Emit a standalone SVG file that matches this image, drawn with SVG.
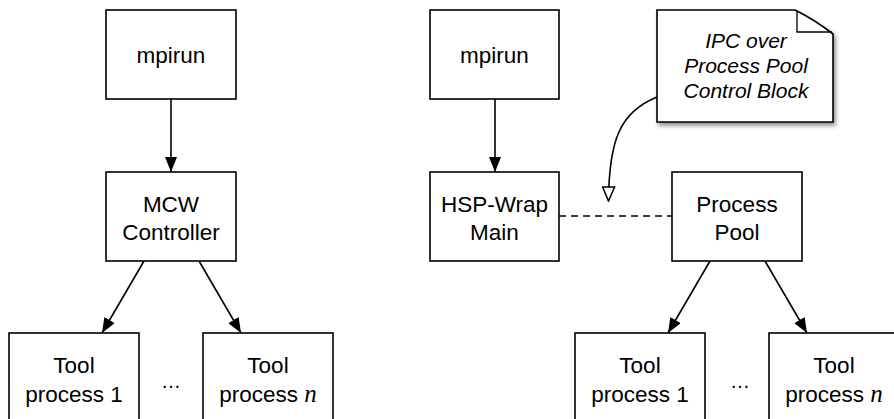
<svg xmlns="http://www.w3.org/2000/svg" width="894" height="419" viewBox="0 0 894 419">
  <style>
    .box { fill: #ffffff; stroke: #000000; stroke-width: 1.6; }
    .lbl { font-family: "Liberation Sans", Arial, Helvetica, sans-serif; font-size: 22.5px; fill: #000000; text-anchor: middle; }
    .note { font-family: "Liberation Sans", Arial, Helvetica, sans-serif; font-size: 21px; font-style: italic; fill: #000000; text-anchor: middle; }
    .var { font-family: "Liberation Serif", "Times New Roman", serif; font-style: italic; font-size: 25px; }
    .dots { font-family: "Liberation Sans", Arial, sans-serif; font-size: 20px; fill: #000000; text-anchor: middle; }
    .edge { fill: none; stroke: #000000; stroke-width: 1.6; }
    .dash { stroke-dasharray: 7 5; }
  </style>
  <defs>
    <marker id="arrow" viewBox="0 0 15 12" refX="15" refY="6" markerWidth="15" markerHeight="12" markerUnits="userSpaceOnUse" orient="auto">
      <path d="M0,0 L15,6 L0,12 Z" fill="#000000"/>
    </marker>
    <marker id="hollow" viewBox="0 0 16 14" refX="15" refY="7" markerWidth="16" markerHeight="14" markerUnits="userSpaceOnUse" orient="auto">
      <path d="M1,1 L15,7 L1,13 Z" fill="#ffffff" stroke="#000000" stroke-width="1.5"/>
    </marker>
    <filter id="shadow" x="-10%" y="-10%" width="130%" height="130%">
      <feDropShadow dx="2" dy="3" stdDeviation="2" flood-color="#000000" flood-opacity="0.45"/>
    </filter>
  </defs>

  <!-- connectors -->
  <g id="connectors">
    <line class="edge" x1="171" y1="99" x2="171" y2="172" marker-end="url(#arrow)"/>
    <line class="edge" x1="144" y1="261" x2="102" y2="333" marker-end="url(#arrow)"/>
    <line class="edge" x1="199" y1="261" x2="241" y2="333" marker-end="url(#arrow)"/>
    <line class="edge" x1="495" y1="99" x2="495" y2="172" marker-end="url(#arrow)"/>
    <line class="edge dash" x1="559" y1="216" x2="672" y2="216"/>
    <line class="edge" x1="710" y1="261" x2="668" y2="333" marker-end="url(#arrow)"/>
    <line class="edge" x1="765" y1="261" x2="807" y2="333" marker-end="url(#arrow)"/>
    <path class="edge" d="M657,97 C620,112 609,140 608.5,201" marker-end="url(#hollow)"/>
  </g>

  <!-- left: MCW -->
  <g id="mpirun-left">
    <rect class="box" x="106" y="10" width="130" height="89"/>
    <text class="lbl" x="171" y="63">mpirun</text>
  </g>
  <g id="mcw-controller">
    <rect class="box" x="106" y="172" width="130" height="89"/>
    <text class="lbl" x="171" y="212">MCW</text>
    <text class="lbl" x="171" y="240">Controller</text>
  </g>
  <g id="tool-left-1">
    <rect class="box" x="9" y="333" width="130" height="95"/>
    <text class="lbl" x="74" y="373">Tool</text>
    <text class="lbl" x="74" y="402">process 1</text>
  </g>
  <g id="tool-left-n">
    <rect class="box" x="203" y="333" width="130" height="95"/>
    <text class="lbl" x="268" y="373">Tool</text>
    <text class="lbl" x="268" y="402">process <tspan class="var">n</tspan></text>
  </g>
  <g id="ellipsis-left">
    <text class="dots" x="171" y="388">…</text>
  </g>

  <!-- right: HSP-Wrap -->
  <g id="mpirun-right">
    <rect class="box" x="430" y="10" width="129" height="89"/>
    <text class="lbl" x="494.5" y="63">mpirun</text>
  </g>
  <g id="hsp-wrap-main">
    <rect class="box" x="430" y="172" width="129" height="89"/>
    <text class="lbl" x="494.5" y="212">HSP-Wrap</text>
    <text class="lbl" x="494.5" y="240">Main</text>
  </g>
  <g id="process-pool">
    <rect class="box" x="672" y="172" width="130" height="89"/>
    <text class="lbl" x="737" y="212">Process</text>
    <text class="lbl" x="737" y="240">Pool</text>
  </g>
  <g id="tool-right-1">
    <rect class="box" x="575" y="333" width="130" height="95"/>
    <text class="lbl" x="640" y="373">Tool</text>
    <text class="lbl" x="640" y="402">process 1</text>
  </g>
  <g id="tool-right-n">
    <rect class="box" x="769" y="333" width="130" height="95"/>
    <text class="lbl" x="834" y="373">Tool</text>
    <text class="lbl" x="834" y="402">process <tspan class="var">n</tspan></text>
  </g>
  <g id="ellipsis-right">
    <text class="dots" x="740" y="388">…</text>
  </g>

  <!-- note -->
  <g id="ipc-note">
    <path d="M657,10 L795,10 Q815,20 833,34 L833,122 L657,122 Z" fill="#ffffff" stroke="#000000" stroke-width="1.6" filter="url(#shadow)"/>
    <path d="M797,11 L797,32 L832,32" fill="none" stroke="#000000" stroke-width="1.3"/>
    <text class="note" x="746" y="48">IPC over</text>
    <text class="note" x="746" y="73">Process Pool</text>
    <text class="note" x="746" y="98">Control Block</text>
  </g>
</svg>
